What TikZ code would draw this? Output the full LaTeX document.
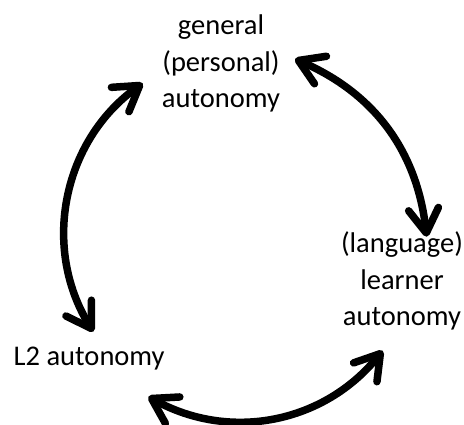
\documentclass[tikz,border=0pt]{standalone}
\usepackage{fontspec}
\setmainfont{Carlito}
\usetikzlibrary{arrows.meta}
\begin{document}
\begin{tikzpicture}[x=1pt,y=1pt,
  lbl/.style={align=center,inner sep=0pt,font=\fontsize{28.5}{36.5}\selectfont},
  dbl/.style={line width=7.5pt,
    {Straight Barb[length=24pt,width=30pt,round]}-{Straight Barb[length=24pt,width=30pt,round]}}]
\useasboundingbox (0,0) rectangle (464,425);
\node[lbl] (gen) at (221,361.5) {general\\(personal)\\autonomy};
\node[lbl] (lla) at (402,144) {(language)\\learner\\autonomy};
\node[lbl] (l2) at (89.2,66.5) {L2 autonomy};
\coordinate (a1s) at (295,366);
\coordinate (a1e) at (426.7,188.3);
\coordinate (a2s) at (142.7,341.7);
\coordinate (a2e) at (93.3,93.3);
\coordinate (a3s) at (148.3,28.3);
\coordinate (a3e) at (382.7,74.3);
\draw[dbl] (a1s) to[bend left=30] (a1e);
\draw[dbl] (a2s) to[bend right=43] (a2e);
\draw[dbl] (a3s) to[bend right=40] (a3e);
\end{tikzpicture}
\end{document}
